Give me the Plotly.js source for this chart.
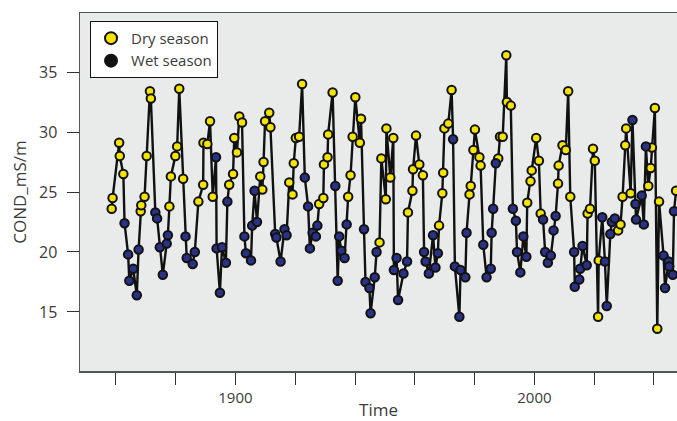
<!DOCTYPE html>
<html>
<head>
<meta charset="utf-8">
<script src="https://cdn.plot.ly/plotly-3.0.1.min.js"></script>
<style>
  html, body { margin: 0; padding: 0; background: #ffffff; }
  #chart { width: 677px; height: 421px; }
</style>
</head>
<body>
<div id="chart"></div>
<script>
// Sampling time of each conductivity measurement
const time = [
  1858.6,1858.9,1861.1,1861.3,1862.5,1862.9,1864.1,1864.5,1865.8,1867.0,
  1867.6,1868.3,1868.5,1869.6,1870.3,1871.4,1871.7,1873.2,1873.8,1874.7,
  1875.7,1877.0,1877.4,1877.9,1878.4,1879.9,1880.5,1881.2,1882.5,1883.3,
  1883.7,1885.7,1886.4,1887.6,1889.2,1889.3,1890.6,1891.5,1892.4,1893.5,
  1893.7,1894.8,1895.5,1896.8,1897.3,1897.9,1899.2,1899.6,1900.5,1901.3,
  1902.2,1903.0,1903.5,1905.2,1905.6,1906.4,1907.2,1908.3,1909.0,1909.4,
  1909.9,1911.3,1911.7,1913.3,1913.7,1915.1,1916.4,1917.1,1918.0,1919.1,
  1919.5,1920.2,1921.3,1922.3,1923.2,1924.3,1924.9,1925.8,1926.9,1927.4,
  1928.0,1929.4,1929.6,1930.8,1931.0,1932.5,1933.4,1934.2,1934.7,1935.4,
  1936.5,1937.2,1937.7,1938.5,1939.2,1940.1,1941.6,1942.0,1943.0,1943.5,
  1944.8,1945.2,1946.6,1947.2,1948.2,1948.8,1950.3,1950.5,1951.8,1952.8,
  1953.0,1953.9,1954.4,1956.2,1957.4,1957.7,1959.2,1959.4,1960.4,1961.5,
  1962.7,1963.1,1963.6,1964.7,1966.1,1966.9,1967.7,1968.1,1969.2,1969.5,
  1969.9,1971.2,1972.3,1972.8,1973.4,1974.9,1975.3,1976.9,1977.3,1978.3,
  1978.7,1979.6,1980.1,1981.6,1982.0,1982.9,1984.0,1985.4,1985.7,1986.2,
  1987.1,1987.9,1988.5,1989.4,1990.6,1990.8,1992.1,1992.8,1993.8,1994.2,
  1995.3,1996.3,1997.3,1997.6,1998.7,1999.1,2000.6,2001.5,2002.1,2002.9,
  2003.6,2004.5,2005.5,2006.4,2007.1,2007.9,2008.1,2009.4,2010.5,2011.3,
  2012.0,2013.3,2013.5,2015.0,2015.3,2016.1,2017.5,2017.8,2018.6,2019.6,
  2020.2,2021.3,2021.5,2022.7,2023.6,2024.2,2025.4,2025.9,2026.9,2028.0,
  2028.8,2029.5,2030.4,2030.7,2032.2,2032.8,2033.8,2034.0,2035.9,2036.6,
  2037.3,2038.1,2038.9,2039.3,2040.3,2041.1,2041.7,2043.2,2043.7,2044.9,
  2045.1,2046.3,2046.7,2047.4
];

// Electrical conductivity, mS/m
const cond = [
  23.6,24.5,29.1,28.0,26.5,22.4,19.8,17.6,18.6,16.4,
  20.2,23.4,23.9,24.6,28.0,33.4,32.8,23.3,22.8,20.4,
  18.1,20.7,21.4,23.8,26.3,28.0,28.8,33.6,26.1,21.3,
  19.5,19.0,20.0,24.2,25.6,29.1,29.0,30.9,24.6,27.9,
  20.3,16.6,20.4,19.1,24.2,25.6,26.5,29.5,28.3,31.3,
  30.8,21.3,19.9,19.3,22.2,25.1,22.5,26.3,25.2,27.5,
  30.9,31.6,30.4,21.5,21.2,19.2,21.9,21.4,25.8,24.8,
  27.4,29.5,29.6,34.0,26.2,23.8,20.3,21.6,21.3,22.2,
  24.0,24.5,27.3,27.9,29.8,33.3,25.5,17.6,21.3,20.1,
  19.5,22.3,24.6,26.4,29.6,32.9,29.1,31.1,21.9,17.5,
  17.0,14.9,17.9,20.0,20.8,27.8,24.4,30.3,26.2,29.5,
  18.5,19.5,16.0,18.2,19.2,23.3,25.1,26.9,29.7,27.3,
  26.4,20.0,19.2,18.2,21.4,18.7,19.9,22.2,24.9,26.6,
  30.3,30.7,33.5,29.4,18.8,14.6,18.5,17.9,21.6,24.8,
  25.5,28.5,30.2,27.9,27.2,20.6,17.9,18.6,21.6,23.6,
  27.4,27.8,29.6,29.6,36.4,32.5,32.2,23.6,22.6,20.0,
  18.3,21.3,19.6,24.1,25.9,26.8,29.5,27.6,23.2,22.7,
  20.0,19.1,19.7,21.8,23.0,25.7,27.2,28.9,28.5,33.4,
  24.6,20.0,17.1,17.7,18.6,20.5,18.9,23.2,23.6,28.6,
  27.6,14.6,19.3,22.9,19.2,15.5,21.5,22.5,22.8,21.8,
  22.3,24.6,28.9,30.3,24.9,31.0,24.0,22.7,24.7,22.3,
  28.8,25.5,27.0,28.7,32.0,13.6,24.2,19.7,17.0,19.2,
  18.8,18.1,23.4,25.1
];

// Season of each sample: D = dry, W = wet
const season = (
  "DDDDD" + "WWWWWW" + "DDDDDD" + "WWWWWW" + "DDDDDD" + "WWWW" +
  "DDDDDD" + "WWWWWW" + "DDDDDD" + "WWWWWW" + "DDDDDD" + "WWWWW" +
  "DDDDDD" + "WWWWWW" + "DDDDDD" + "WWWWWW" + "DDDDDD" + "WWWWWW" +
  "DDDDDD" + "WWWWW" + "DDDDDD" + "WWWWWW" + "DDDDDD" + "WWWWWW" +
  "DDDDDD" + "WWWWWW" + "DDDDDD" + "WWWWWW" + "DDDDDD" + "WWWWWW" +
  "DDDDDD" + "WWWWWW" + "DDDDDD" + "WWWWWW" + "DDDDDD" + "WWWWWW" +
  "DDDDDD" + "WWWWWW" + "D"
).split("");

const seriesNames = { D: "Dry season", W: "Wet season" };
const xTickVals = [1860, 1880, 1900, 1920, 1940, 1960, 1980, 2000, 2020, 2040];
const xTickText = ["", "", "1900", "", "", "", "", "2000", "", ""];
const yTickVals = [15, 20, 25, 30, 35];

const dryFill = "#f4e400";
const wetFill = "#2a3286";
const edge = "#111111";

function pick(key) {
  const xs = [], ys = [];
  for (let i = 0; i < time.length; i++) {
    if (season[i] === key) { xs.push(time[i]); ys.push(cond[i]); }
  }
  return { x: xs, y: ys };
}
const dry = pick("D");
const wet = pick("W");

const traces = [
  // connecting line through every sample
  { x: time, y: cond, type: "scatter", mode: "lines",
    line: { color: edge, width: 2.4 }, showlegend: false, hoverinfo: "skip" },
  { x: dry.x, y: dry.y, type: "scatter", mode: "markers", name: seriesNames.D,
    marker: { color: dryFill, size: 8.5, line: { color: edge, width: 2 } },
    showlegend: false },
  { x: wet.x, y: wet.y, type: "scatter", mode: "markers", name: seriesNames.W,
    marker: { color: wetFill, size: 8.5, line: { color: edge, width: 2 } },
    showlegend: false },
  // legend entries
  { x: [null], y: [null], type: "scatter", mode: "markers", name: seriesNames.D,
    marker: { color: dryFill, size: 8, line: { color: edge, width: 2 } } },
  { x: [null], y: [null], type: "scatter", mode: "markers", name: seriesNames.W,
    marker: { color: edge, size: 8, line: { color: edge, width: 2 } } }
];

const font = "'Open Sans', 'Noto Sans', sans-serif";
const layout = {
  width: 677, height: 421,
  margin: { l: 80, r: 0, t: 13, b: 50, pad: 0 },
  paper_bgcolor: "#ffffff",
  plot_bgcolor: "#e9ebeb",
  font: { family: font, color: "#3c3c3c", size: 15 },
  showlegend: true,
  legend: {
    x: 0.0168, y: 0.978, xanchor: "left", yanchor: "top",
    bgcolor: "#ffffff", bordercolor: "#111111", borderwidth: 1,
    font: { family: font, size: 15, color: "#3c3c3c" },
    itemsizing: "constant"
  },
  xaxis: {
    range: [1848.0, 2047.7],
    tickmode: "array", tickvals: xTickVals, ticktext: xTickText,
    ticks: "outside", ticklen: 12, tickwidth: 1, tickcolor: "#333333",
    showline: true, linecolor: "#555555", linewidth: 1.5, mirror: true,
    showgrid: false, zeroline: false,
    tickfont: { size: 15 },
    title: { text: "Time", font: { size: 17 }, standoff: 0 }
  },
  yaxis: {
    range: [10.08, 39.92],
    tickmode: "array", tickvals: yTickVals,
    ticks: "outside", ticklen: 12, tickwidth: 1, tickcolor: "#333333",
    ticklabelstandoff: 6,
    showline: true, linecolor: "#555555", linewidth: 1.5,
    showgrid: false, zeroline: false,
    tickfont: { size: 16 },
    title: { text: "COND_mS/m", font: { size: 17 }, standoff: 8 }
  }
};

Plotly.newPlot("chart", traces, layout, { staticPlot: true, displayModeBar: false });
</script>
</body>
</html>
